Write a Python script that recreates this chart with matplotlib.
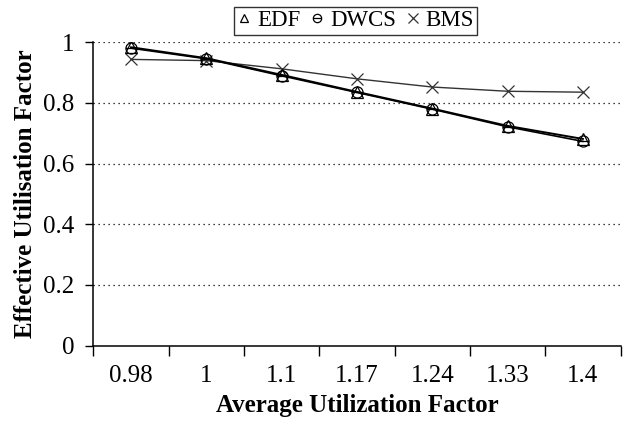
import numpy as np
import matplotlib.pyplot as plt
from matplotlib.path import Path
from matplotlib.ticker import FixedLocator, NullFormatter

# values
categories = ["0.98", "1", "1.1", "1.17", "1.24", "1.33", "1.4"]
edf = [0.983, 0.947, 0.892, 0.836, 0.781, 0.724, 0.681]
dwcs = [0.980, 0.945, 0.889, 0.834, 0.779, 0.721, 0.673]
bms = [0.943, 0.939, 0.912, 0.879, 0.852, 0.838, 0.835]
yticks = [0, 0.2, 0.4, 0.6, 0.8, 1.0]
ytick_labels = ["0", "0.2", "0.4", "0.6", "0.8", "1"]

plt.rcParams['font.family'] = ['Liberation Serif', 'DejaVu Serif']

# circle with a horizontal bar through it
theta_marker = Path.make_compound_path(
    Path.unit_circle(),
    Path([[-1, 0], [1, 0]], [Path.MOVETO, Path.LINETO]))

fig = plt.figure(figsize=(6.23, 4.21), dpi=100)
ax = fig.add_axes([0.150, 0.179, 0.846, 0.721])

x = np.arange(len(categories))
ax.plot(x, bms, color='#333333', lw=1.0, marker='x', ms=9, mew=0.9,
        label='BMS', zorder=3)
ax.plot(x, dwcs, color='black', lw=1.2, marker=theta_marker, ms=8,
        mfc='none', mew=0.9, label='DWCS', zorder=4)
ax.plot(x, edf, color='black', lw=1.4, marker='^', ms=8, mfc='none',
        mew=0.9, label='EDF', zorder=5)

ax.set_xlim(-0.5, len(categories) - 0.5)
ax.set_ylim(0, 1.0)

for v in yticks[1:]:
    ax.axhline(v, color='black', lw=0.9, ls=(0, (1, 3)), zorder=1)

ax.set_yticks(yticks)
ax.set_yticklabels(ytick_labels, fontsize=18)
ax.tick_params(axis='y', direction='out', length=6, width=1, pad=8)

# x: ticks on category boundaries, labels in the middle
ax.xaxis.set_major_locator(FixedLocator(np.arange(-0.5, len(categories), 1.0)))
ax.xaxis.set_major_formatter(NullFormatter())
ax.set_xticks(x, minor=True)
ax.set_xticklabels(categories, minor=True, fontsize=18)
ax.tick_params(axis='x', which='major', direction='out', length=7, width=1)
ax.tick_params(axis='x', which='minor', length=0, pad=14)

for s in ['top', 'right']:
    ax.spines[s].set_visible(False)
ax.spines['left'].set_linewidth(1.1)
ax.spines['bottom'].set_linewidth(1.1)

ax.set_xlabel('Average Utilization Factor', fontsize=18, fontweight='bold')
ax.xaxis.set_label_coords(0.5, -0.158)
ax.set_ylabel('Effective Utilisation Factor', fontsize=18, fontweight='bold')
ax.yaxis.set_label_coords(-0.108, 0.5)

h, l = ax.get_legend_handles_labels()
leg = fig.legend(h[::-1], l[::-1], loc='upper center', ncol=3,
                 bbox_to_anchor=(0.571, 0.995), fontsize=16.5, frameon=True,
                 fancybox=False, edgecolor='black', handlelength=0.6,
                 handletextpad=0.25, columnspacing=0.45, borderpad=0.15,
                 borderaxespad=0.2, markerscale=0.75)
leg.get_frame().set_linewidth(1.0)
for line in leg.get_lines():
    line.set_linestyle('none')

fig.savefig('out.png', dpi=100)
